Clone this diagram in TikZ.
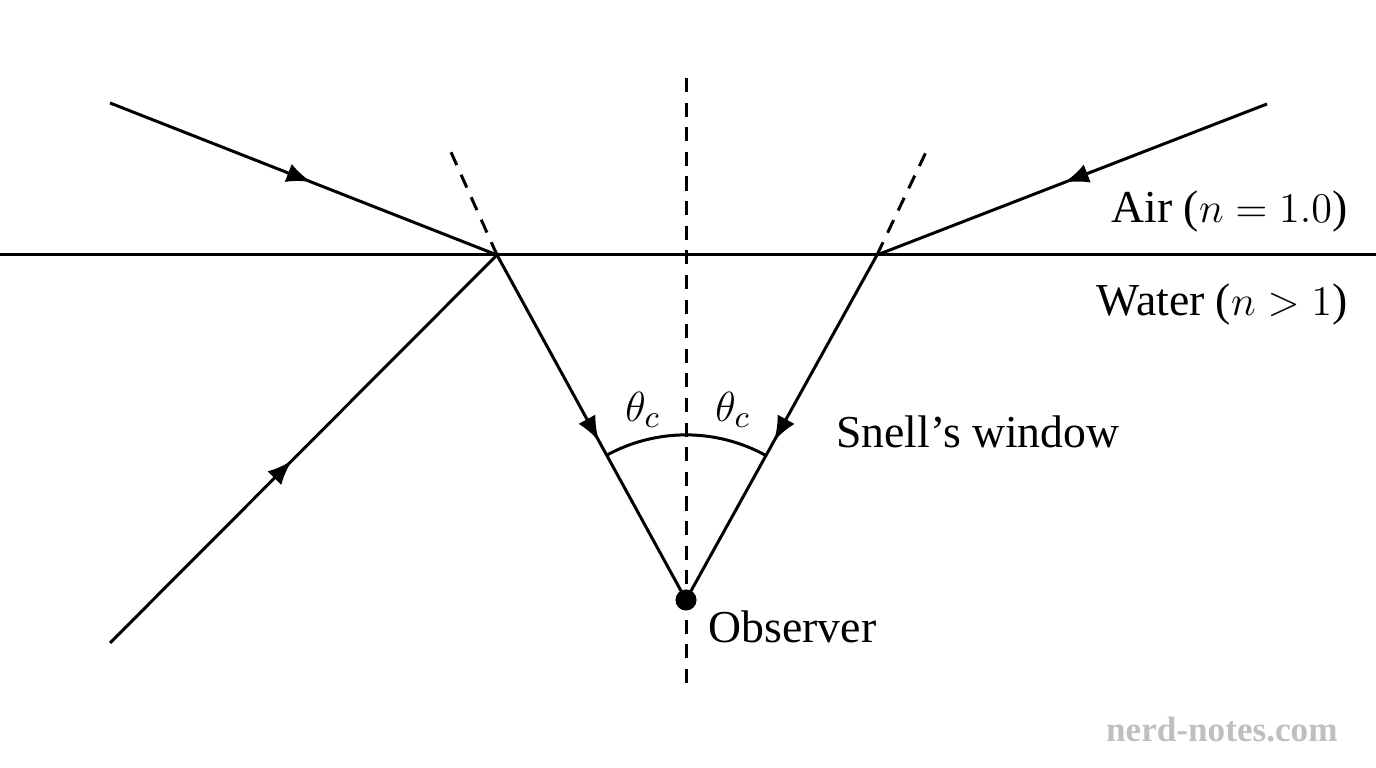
\documentclass[tikz,border=0pt]{standalone}
\usepackage{fontspec}
\setmainfont{Liberation Serif}
\usetikzlibrary{decorations.markings,arrows.meta}
\begin{document}
\begin{tikzpicture}[x=0.01cm,y=0.01cm,
  ray/.style={line width=0.85pt},
  mark/.style={ray,postaction={decorate},decoration={markings,mark=at position #1 with {\arrow{Latex[length=7pt,width=5.5pt]}}}},
  dashln/.style={line width=0.85pt,dash pattern=on 4pt off 3pt},
  lbl/.style={font=\fontsize{13}{15}\selectfont,inner sep=0pt}]
\useasboundingbox (0,0) rectangle (1376,768);
\coordinate (sl) at (0,513); \coordinate (sr) at (1376,513);
\coordinate (L) at (497,513); \coordinate (R) at (877,513);
\coordinate (A) at (110,665); \coordinate (B) at (110,125); \coordinate (C) at (1267,664);
\coordinate (dl) at (450,618); \coordinate (dr) at (927,618);
\coordinate (vt) at (686,690); \coordinate (vb) at (686,80);
\coordinate (obs) at (686,168);
\draw[ray] (sl) -- (sr);
\draw[dashln] (vt) -- (vb);
\draw[dashln] (L) -- (dl);
\draw[dashln] (R) -- (dr);
\draw[mark=0.52] (A) -- (L);
\draw[mark=0.47] (B) -- (L);
\draw[mark=0.52] (C) -- (R);
\draw[mark=0.54] (L) -- (obs);
\draw[mark=0.54] (R) -- (obs);
\draw[ray] ([shift={(61:1.65cm)}]obs) arc (61:119:1.65cm);
\fill (obs) circle (3pt);
\node[lbl] (t1) at (643,358) {$\theta_c$};
\node[lbl] (t2) at (733,358) {$\theta_c$};
\node[lbl] (sw) at (978,336) {Snell’s window};
\node[lbl,anchor=west] (ob) at (708,141) {Observer};
\node[lbl,anchor=east] (air) at (1348,556) {Air ($n=1.0$)};
\node[lbl,anchor=east] (wat) at (1348,463) {Water ($n>1$)};
\node[font=\fontsize{10}{12}\selectfont\bfseries,text=black!25,anchor=east] (wm) at (1350,38) {nerd-notes.com};
\end{tikzpicture}
\end{document}
